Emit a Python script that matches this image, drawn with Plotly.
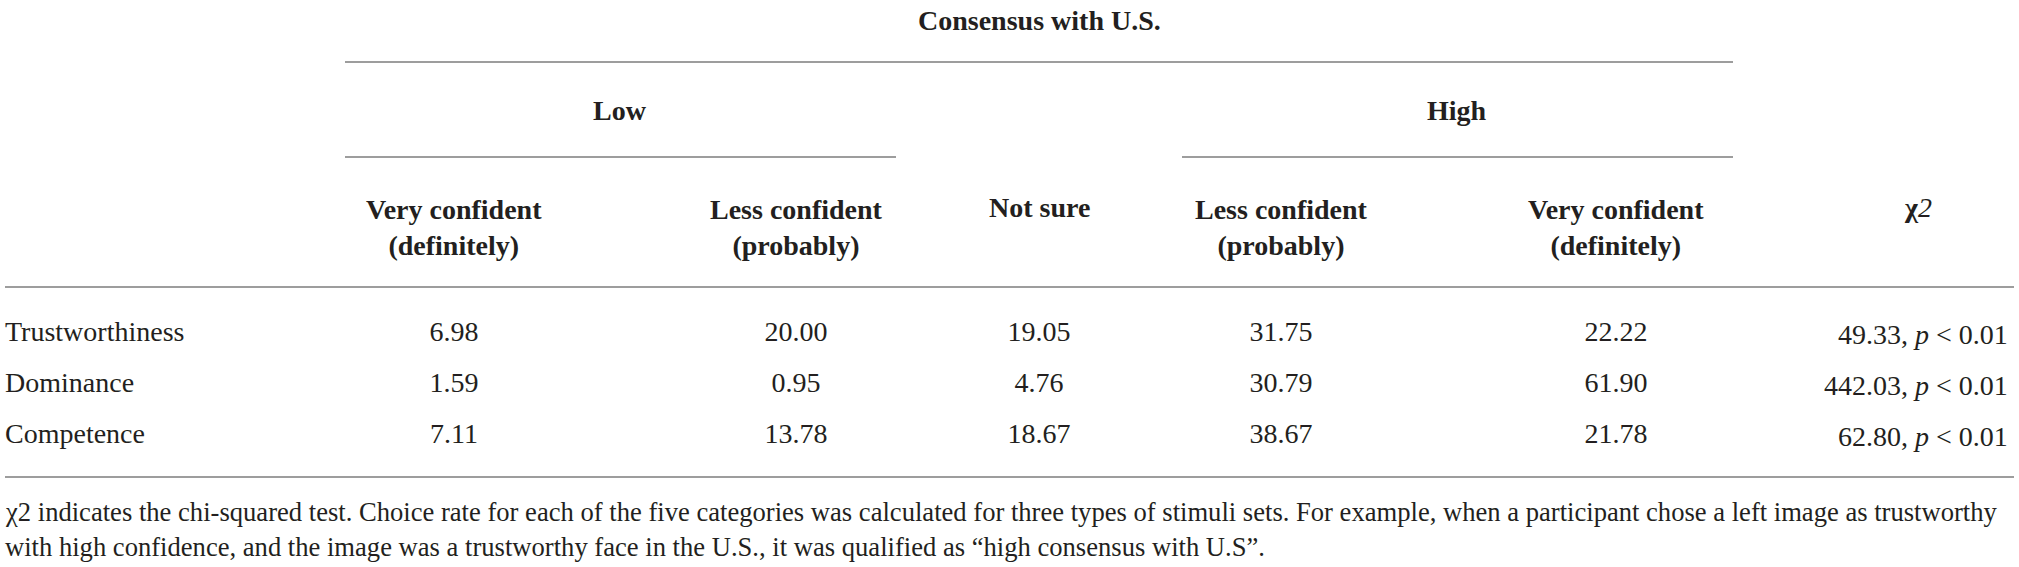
import plotly.graph_objects as go

# table data
traits = ["Trustworthiness", "Dominance", "Competence"]
low_very = [6.98, 1.59, 7.11]
low_less = [20.00, 0.95, 13.78]
not_sure = [19.05, 4.76, 18.67]
high_less = [31.75, 30.79, 38.67]
high_very = [22.22, 61.90, 21.78]
chi2 = [49.33, 442.03, 62.80]
p_text = "<i>p</i> < 0.01"

col_headers = ["Very confident<br>(definitely)", "Less confident<br>(probably)", "Not sure",
               "Less confident<br>(probably)", "Very confident<br>(definitely)"]
footnote = [
    "χ2 indicates the chi-squared test. Choice rate for each of the five categories was calculated for three "
    "types of stimuli sets. For example, when a participant chose a left image as trustworthy",
    "with high confidence, and the image was a trustworthy face in the U.S., it was qualified as "
    "“high consensus with U.S”.",
]

W, H = 2019, 567
FONT = "Liberation Serif"
INK = "#231f20"
RULE = "#9d9d9d"
FS = 28

col_x = [454, 796, 1039, 1281, 1616]
chi_x = 1918
row_y = [334, 385, 436]

fig = go.Figure()

# body cells
fig.add_trace(go.Scatter(x=[5] * len(traits), y=row_y, text=traits, mode="text",
                         textposition="middle right", hoverinfo="skip", cliponaxis=False,
                         textfont=dict(family=FONT, size=FS, color=INK)))
for cx, vals in zip(col_x, [low_very, low_less, not_sure, high_less, high_very]):
    fig.add_trace(go.Scatter(x=[cx] * len(vals), y=row_y, text=[f"{v:.2f}" for v in vals],
                             mode="text", textposition="middle center", hoverinfo="skip",
                             cliponaxis=False,
                             textfont=dict(family=FONT, size=FS, color=INK)))


def label(x, y, txt, anchor="center", size=FS):
    fig.add_annotation(x=x, y=y, text=txt, showarrow=False, xanchor=anchor, yanchor="middle",
                       font=dict(family=FONT, size=size, color=INK), align="center")


for y, v in zip(row_y, chi2):
    label(2010, y, f"{v:.2f}, {p_text}", anchor="right")

# headers
label(1039, 20, "<b>Consensus with U.S.</b>")
label(620, 110, "<b>Low</b>")
label(1457, 110, "<b>High</b>")
for cx, h in zip(col_x, col_headers):
    if "<br>" in h:
        label(cx, 227, f"<b>{h}</b>")
    else:
        label(cx, 207, f"<b>{h}</b>")
label(chi_x, 207, "<b>χ</b><i>2</i>")

label(3, 512, footnote[0], anchor="left", size=26.6)
label(3, 547, footnote[1], anchor="left", size=26.6)

# rules
rules = [(345, 1733, 62), (345, 896, 157), (1182, 1733, 157), (5, 2014, 287), (5, 2014, 477)]
for x0, x1, y in rules:
    fig.add_shape(type="line", x0=x0, x1=x1, y0=y, y1=y, line=dict(color=RULE, width=2))

fig.update_layout(
    width=W, height=H, autosize=False,
    margin=dict(l=0, r=0, t=0, b=0),
    paper_bgcolor="white", plot_bgcolor="white",
    showlegend=False,
    xaxis=dict(range=[0, W], visible=False, fixedrange=True),
    yaxis=dict(range=[H, 0], visible=False, fixedrange=True),
)

fig.write_html("out.html", config={"displayModeBar": False},
               post_script="document.body.style.margin='0';")
